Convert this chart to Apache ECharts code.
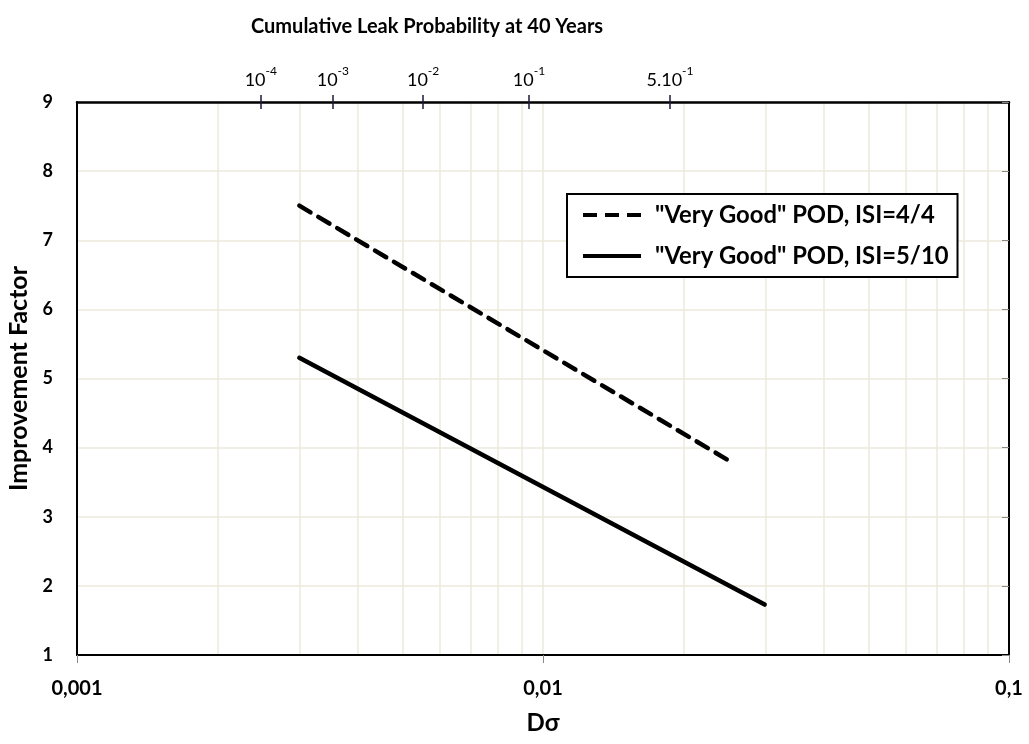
<!DOCTYPE html>
<html>
<head>
<meta charset="utf-8">
<script src="https://cdn.jsdelivr.net/npm/echarts@6/dist/echarts.min.js"></script>
<style>html,body{margin:0;padding:0;background:#fff}#c{width:1029px;height:744px}</style>
</head>
<body>
<div id="c"></div>
<script>
// Data (Dσ on x, improvement factor on y)
const seriesNames = ['"Very Good" POD, ISI=4/4', '"Very Good" POD, ISI=5/10'];
const dsigma44 = [0.003, 0.0248];
const factor44 = [7.5, 3.83];
const dsigma510 = [0.003, 0.0299];
const factor510 = [5.3, 1.73];
// Top axis: cumulative leak probability tick positions (in Dσ) and labels
const topTickDs = [0.00248, 0.00354, 0.00553, 0.00933, 0.01873];
const topTickBase = ['10', '10', '10', '10', '5.10'];
const topTickExp = ['-4', '-3', '-2', '-1', '-1'];
// Minor grid positions
const minorGrid = [0.002,0.003,0.004,0.005,0.006,0.007,0.008,0.009,0.01,0.02,0.03,0.04,0.05,0.06,0.07,0.08,0.09];

const FONT = 'Lato';
const chart = echarts.init(document.getElementById('c'));
const gridCol = '#ece8db';
function toPairs(xs, ys){ return xs.map((x,i)=>[x, ys[i]]); }

const dashIcon = 'path://M0,0h14v4h-14zM22,0h14v4h-14zM44,0h14v4h-14z';
const solidIcon = 'path://M0,0h58v4h-58z';

chart.setOption({
  animation: false,
  backgroundColor: '#fff',
  textStyle: {fontFamily: FONT},
  title: {
    text: 'Cumulative Leak Probability at 40 Years',
    left: 246, top: 12,
    textStyle: {fontFamily: FONT, fontWeight: 'bold', fontSize: 20, color: '#000'}
  },
  legend: {
    orient: 'vertical',
    left: 567, top: 194,
    backgroundColor: '#fff',
    borderColor: '#000', borderWidth: 2,
    padding: [9, 9, 9, 16],
    itemWidth: 58, itemHeight: 4, itemGap: 17,
    symbolKeepAspect: false,
    textStyle: {fontFamily: FONT, fontWeight: 'bold', fontSize: 23.8, lineHeight: 24, color: '#000', padding: [0,0,0,9]},
    data: [
      {name: seriesNames[0], icon: dashIcon, itemStyle: {color: '#000'}},
      {name: seriesNames[1], icon: solidIcon, itemStyle: {color: '#000'}}
    ]
  },
  grid: {left: 77, right: 20, top: 102, bottom: 89, containLabel: false, outerBoundsMode: 'none'},
  xAxis: [
    {
      type: 'log', logBase: 10, min: 0.001, max: 0.1, position: 'bottom',
      name: 'Dσ', nameLocation: 'middle', nameGap: 56,
      nameTextStyle: {fontFamily: FONT, fontWeight: 'bold', fontSize: 24, color: '#000'},
      axisLine: {lineStyle: {color: '#000', width: 2}},
      axisTick: {show: true, length: 8, lineStyle: {color: '#888'}},
      axisLabel: {fontFamily: FONT, fontWeight: 'bold', fontSize: 20, color: '#000', margin: 24,
        formatter: v => String(+v.toPrecision(3)).replace('.', ',')},
      splitLine: {show: false}, minorTick: {show: false}
    },
    {
      type: 'log', logBase: 10, min: 0.001, max: 0.1, position: 'top',
      axisLine: {lineStyle: {color: '#000', width: 2.5}},
      axisTick: {show: true, length: 7, customValues: topTickDs, lineStyle: {color: '#1a1a3a', width: 1.5}},
      axisLabel: {
        customValues: topTickDs, margin: 13, color: '#000',
        formatter: function (v) {
          let k = 0, best = Infinity;
          topTickDs.forEach((t, i) => { const d = Math.abs(Math.log(t) - Math.log(v)); if (d < best) { best = d; k = i; } });
          return '{b|' + topTickBase[k] + '}{s|' + topTickExp[k] + '}';
        },
        rich: {
          b: {fontFamily: FONT, fontSize: 18, color: '#000', lineHeight: 24, verticalAlign: 'bottom'},
          s: {fontFamily: FONT, fontSize: 12, color: '#000', verticalAlign: 'top', lineHeight: 24}
        }
      },
      splitLine: {show: false}
    },
    {
      type: 'log', logBase: 10, min: 0.001, max: 0.1, position: 'bottom', show: true,
      axisLine: {show: false}, axisLabel: {show: false},
      axisTick: {show: false, customValues: minorGrid},
      splitLine: {show: true, lineStyle: {color: gridCol, width: 1.5}}
    },
    {
      type: 'log', logBase: 10, min: 0.001, max: 0.1, position: 'top', show: true,
      axisLine: {show: false}, axisLabel: {show: false},
      axisTick: {show: true, inside: true, length: 7, customValues: topTickDs, lineStyle: {color: '#1a1a3a', width: 1.5}},
      splitLine: {show: false}
    }
  ],
  yAxis: [
    {
      type: 'value', min: 1, max: 9, interval: 1, position: 'left',
      name: 'Improvement Factor', nameLocation: 'middle', nameGap: 43, nameRotate: 90,
      nameTextStyle: {fontFamily: FONT, fontWeight: 'bold', fontSize: 25, color: '#000'},
      axisLine: {show: true, lineStyle: {color: '#000', width: 2}},
      axisTick: {show: false},
      axisLabel: {fontFamily: FONT, fontWeight: 'bold', fontSize: 18, color: '#000', margin: 24},
      splitLine: {show: true, lineStyle: {color: gridCol, width: 1.5}}
    },
    {
      type: 'value', min: 1, max: 9, interval: 1, position: 'right',
      axisLine: {show: true, lineStyle: {color: '#000', width: 2}},
      axisTick: {show: true, inside: true, length: 7, lineStyle: {color: '#888'}},
      axisLabel: {show: false},
      splitLine: {show: false}
    }
  ],
  series: [
    {
      name: seriesNames[0], type: 'line', xAxisIndex: 0, yAxisIndex: 0,
      data: toPairs(dsigma44, factor44), symbol: 'none',
      lineStyle: {color: '#000', width: 4.5, type: [13, 9], cap: 'round'},
      itemStyle: {color: '#000'}
    },
    {
      name: seriesNames[1], type: 'line', xAxisIndex: 0, yAxisIndex: 0,
      data: toPairs(dsigma510, factor510), symbol: 'none',
      lineStyle: {color: '#000', width: 4.5, cap: 'round'},
      itemStyle: {color: '#000'}
    }
  ]
});
</script>
</body>
</html>
